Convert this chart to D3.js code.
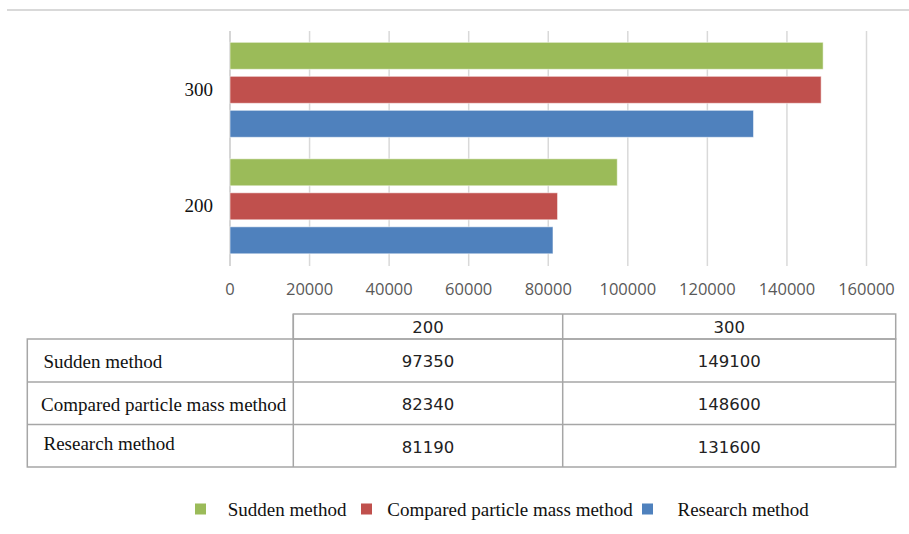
<!DOCTYPE html>
<html>
<head>
<meta charset="utf-8">
<script src="https://cdn.jsdelivr.net/npm/d3@7"></script>
<style>
  html, body { margin: 0; padding: 0; background: #fff; }
  svg { display: block; }
</style>
</head>
<body>
<script>
// ---- data ----
const categories = ["300", "200"];               // top to bottom on the chart
const tableColumns = ["200", "300"];
const seriesNames = ["Sudden method", "Compared particle mass method", "Research method"];
const suddenValues   = { "200": 97350, "300": 149100 };
const comparedValues = { "200": 82340, "300": 148600 };
const researchValues = { "200": 81190, "300": 131600 };
const xTicks = [0, 20000, 40000, 60000, 80000, 100000, 120000, 140000, 160000];
const seriesColors = ["#9BBB59", "#C0504D", "#4F81BD"];

const seriesValues = [suddenValues, comparedValues, researchValues];

const W = 909, H = 534;
const svg = d3.select("body").append("svg").attr("width", W).attr("height", H);

// top rule
svg.append("line").attr("x1", 7).attr("x2", W).attr("y1", 10).attr("y2", 10)
  .attr("stroke", "#d9d9d9").attr("stroke-width", 2);

// ---- scales ----
const x = d3.scaleLinear().domain([0, 160000]).range([230, 866.5]);
const y = d3.scaleBand().domain(categories).range([31, 264]).padding(0);
const ySeries = d3.scaleBand().domain(seriesNames).range([11.3, 106.3]).paddingInner(7 / 34).paddingOuter(0);

// gridlines
svg.append("g").selectAll("line").data(xTicks).join("line")
  .attr("x1", d => x(d)).attr("x2", d => x(d))
  .attr("y1", 31).attr("y2", 266)
  .attr("stroke", (d, i) => i === 0 ? "#c8c8c8" : "#d9d9d9")
  .attr("stroke-width", 1.5);

// bars
const groups = svg.append("g").selectAll("g").data(categories).join("g")
  .attr("transform", d => `translate(0,${y(d)})`);
groups.selectAll("rect")
  .data(c => seriesNames.map((s, i) => ({ s, i, v: seriesValues[i][c] })))
  .join("rect")
  .attr("x", x(0))
  .attr("y", d => ySeries(d.s))
  .attr("width", d => x(d.v) - x(0))
  .attr("height", ySeries.bandwidth())
  .attr("fill", d => seriesColors[d.i])
  .attr("stroke", "rgba(255,255,255,0.55)")
  .attr("stroke-width", 1);

// y labels
svg.append("g").selectAll("text").data(categories).join("text")
  .attr("x", 213).attr("y", d => y(d) + y.bandwidth() / 2)
  .attr("text-anchor", "end").attr("dominant-baseline", "central")
  .attr("font-family", "'Liberation Serif', 'Times New Roman', serif")
  .attr("font-size", 19).attr("fill", "#111")
  .text(d => d);

// x tick labels
svg.append("g").selectAll("text").data(xTicks).join("text")
  .attr("x", d => x(d)).attr("y", 288)
  .attr("text-anchor", "middle").attr("dominant-baseline", "central")
  .attr("font-family", "'Open Sans', sans-serif")
  .attr("font-size", 16.5).attr("fill", "#595959")
  .text(d => d);

// ---- data table ----
const colX = [27.3, 293.3, 562.7, 895.7];
const rowY = [314, 339, 382, 424.5, 467];
const tbl = svg.append("g");
const borderColor = "#a6a6a6";
// header row (no top-left cell)
tbl.append("rect").attr("x", colX[1]).attr("y", rowY[0])
  .attr("width", colX[3] - colX[1]).attr("height", rowY[1] - rowY[0])
  .attr("fill", "none").attr("stroke", borderColor).attr("stroke-width", 1.5);
// body outer
tbl.append("rect").attr("x", colX[0]).attr("y", rowY[1])
  .attr("width", colX[3] - colX[0]).attr("height", rowY[4] - rowY[1])
  .attr("fill", "none").attr("stroke", borderColor).attr("stroke-width", 1.5);
// inner horizontals
tbl.selectAll("line.h").data([rowY[2], rowY[3]]).join("line").attr("class", "h")
  .attr("x1", colX[0]).attr("x2", colX[3]).attr("y1", d => d).attr("y2", d => d)
  .attr("stroke", borderColor).attr("stroke-width", 1.5);
// inner verticals
tbl.selectAll("line.v").data([colX[1], colX[2]]).join("line").attr("class", "v")
  .attr("x1", d => d).attr("x2", d => d).attr("y1", rowY[0]).attr("y2", rowY[4])
  .attr("stroke", borderColor).attr("stroke-width", 1.5);

const numFont = "'DejaVu Sans', Verdana, sans-serif";
// header labels
tbl.selectAll("text.hd").data(tableColumns).join("text").attr("class", "hd")
  .attr("x", (d, i) => (colX[i + 1] + colX[i + 2]) / 2)
  .attr("y", (rowY[0] + rowY[1]) / 2 + 1)
  .attr("text-anchor", "middle").attr("dominant-baseline", "central")
  .attr("font-family", numFont).attr("font-size", 16.5).attr("fill", "#222")
  .text(d => d);
// row labels
tbl.selectAll("text.rl").data(seriesNames).join("text").attr("class", "rl")
  .attr("x", (d, i) => i === 1 ? 41 : 43.5)
  .attr("y", (d, i) => rowY[i + 1] + [22.5, 22, 19][i])
  .attr("dominant-baseline", "central")
  .attr("font-family", "'Liberation Serif', 'Times New Roman', serif")
  .attr("font-size", 19).attr("fill", "#111")
  .text(d => d);
// values
seriesNames.forEach((s, r) => {
  tbl.selectAll(`text.v${r}`).data(tableColumns).join("text").attr("class", `v${r}`)
    .attr("x", (c, i) => (colX[i + 1] + colX[i + 2]) / 2)
    .attr("y", rowY[r + 1] + 22.5)
    .attr("text-anchor", "middle").attr("dominant-baseline", "central")
    .attr("font-family", numFont).attr("font-size", 16.5).attr("fill", "#222")
    .text(c => seriesValues[r][c]);
});

// ---- legend ----
const legendX = [195, 361, 642];
const legendTextX = [227.7, 387.3, 677.5];
const lg = svg.append("g").selectAll("g").data(seriesNames).join("g");
lg.append("rect")
  .attr("x", (d, i) => legendX[i]).attr("y", 503.5)
  .attr("width", 11).attr("height", 11)
  .attr("fill", (d, i) => seriesColors[i]);
lg.append("text")
  .attr("x", (d, i) => legendTextX[i]).attr("y", 509)
  .attr("dominant-baseline", "central")
  .attr("font-family", "'Liberation Serif', 'Times New Roman', serif")
  .attr("font-size", 19).attr("fill", "#111")
  .text(d => d);
</script>
</body>
</html>
